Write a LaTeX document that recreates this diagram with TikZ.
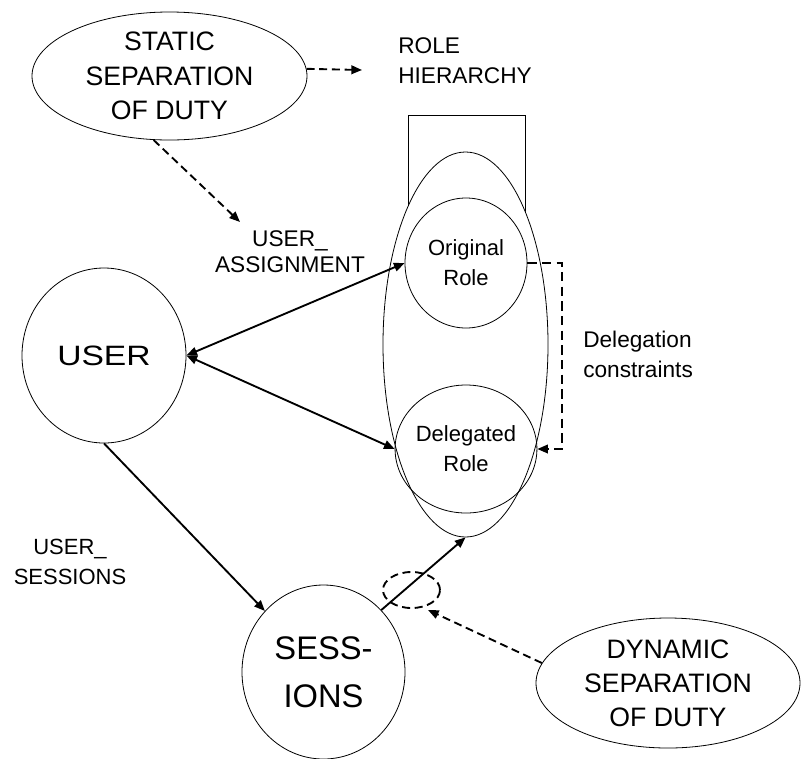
\documentclass[tikz,border=0pt]{standalone}
\usepackage{fontspec}
\setmainfont{Liberation Sans}
\usetikzlibrary{shapes.geometric,arrows.meta}

\begin{document}
\begin{tikzpicture}[x=0.75pt,y=-0.75pt,
  outline/.style={draw,line width=0.6pt,inner sep=0pt},
  oval/.style={outline,ellipse},
  link/.style={line width=1.4pt,-{Triangle[length=8pt,width=6.5pt]}},
  twoway/.style={line width=1.4pt,{Triangle[length=8pt,width=6.5pt]}-{Triangle[length=8pt,width=6.5pt]}},
  dlink/.style={link,dash pattern=on 6pt off 3.5pt},
  sodtext/.style={font=\fontsize{20}{26}\selectfont,align=center},
  roletext/.style={font=\fontsize{16.5}{22.5}\selectfont,align=center},
  label/.style={inner sep=0pt,font=\fontsize{17}{22.5}\selectfont}
]
\useasboundingbox (0,0) rectangle (803,758);

% role hierarchy box, partly hidden behind the role ellipse
\draw[line width=0.6pt] (408,300) -- (408,115) -- (525,115) -- (525,300);
\node[oval,fill=white,minimum width=123.75pt,minimum height=288.75pt] (roles) at (465.5,344.5) {};
\node[oval,roletext,minimum width=91.5pt,minimum height=97.5pt] (orig) at (466,263) {Original\\Role};
\node[oval,roletext,minimum width=91.5pt,minimum height=96pt] (deleg) at (466,449) {Delegated\\Role};

% separation of duty constraints
\node[oval,sodtext,minimum width=206.25pt,minimum height=96pt] (ssd) at (169.5,76) {STATIC\\SEPARATION\\OF DUTY};
\node[oval,sodtext,font=\fontsize{20}{25.5}\selectfont,minimum width=198pt,minimum height=97.5pt] (dsd) at (668,683) {DYNAMIC\\SEPARATION\\OF DUTY};

% user and sessions
\node[oval,font=\fontsize{21}{25}\selectfont,minimum width=123pt,minimum height=131.25pt] (user) at (104,355.5) {\scalebox{1.2}[1]{USER}};
\node[oval,align=center,font=\fontsize{24.5}{36}\selectfont,minimum width=122.25pt,minimum height=130.5pt] (sess) at (323.5,672) {SESS-\\IONS};

% marker on the session activation link
\node[oval,line width=1.4pt,dash pattern=on 6pt off 3.5pt,minimum width=42.75pt,minimum height=27pt] (mark) at (411.5,590) {};

% labels
\node[label,align=left,anchor=west] (rh) at (398,60.5) {ROLE\\HIERARCHY};
\node[label,align=center,font=\fontsize{17}{19.5}\selectfont] (ua) at (290,251.5) {USER\_\\ASSIGNMENT};
\node[label,align=center,font=\fontsize{16.5}{22.5}\selectfont] (us) at (70,561.5) {USER\_\\SESSIONS};
\node[label,align=left,anchor=west] (dc) at (583,354.5) {Delegation\\constraints};

% free arrow ends
\coordinate (rhtip) at (362,70);
\coordinate (uatip) at (240,222);
\coordinate (marktip) at (428,610);

% connectors
\draw[dlink] (ssd.3) -- (rhtip);
\draw[dlink] (ssd.-104) -- (uatip);
\draw[twoway] (user.east) -- (orig.west);
\draw[twoway] (user.east) -- (deleg.west);
\draw[link] (user.south) -- (sess);
\draw[link] (sess.47) -- (roles.south);
\draw[dlink] (dsd.171) -- (marktip);
\draw[dlink,dash pattern=on 7pt off 4pt] (orig.east) -- ++(35,0) |- (deleg.east);
\end{tikzpicture}
\end{document}
